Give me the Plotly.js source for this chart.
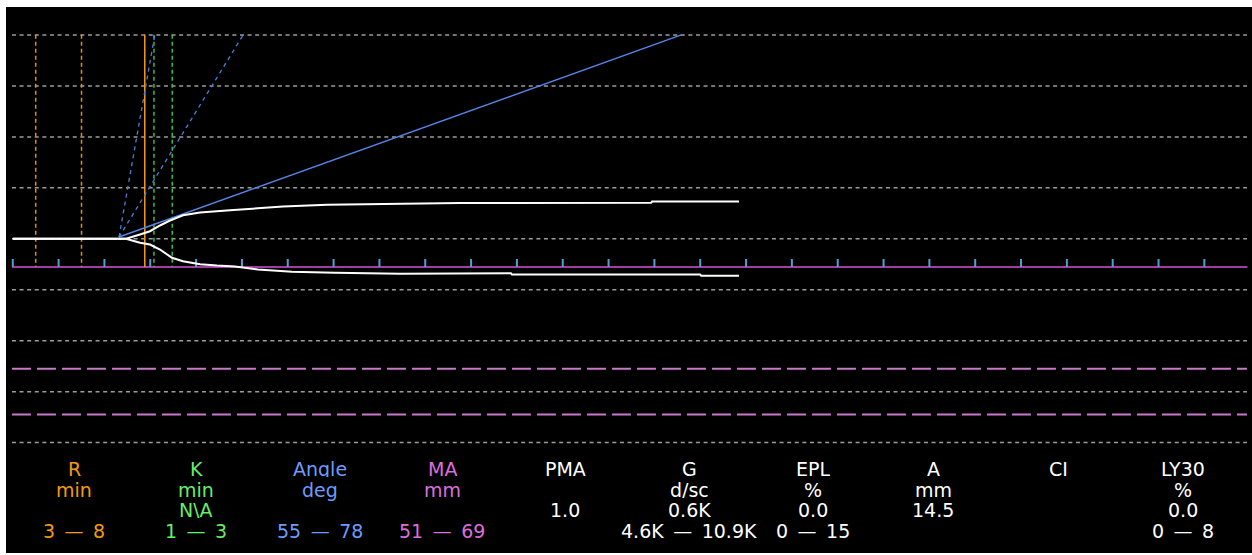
<!DOCTYPE html>
<html>
<head>
<meta charset="utf-8">
<script src="https://cdn.plot.ly/plotly-3.0.1.min.js"></script>
<style>
  html, body { margin: 0; padding: 0; background: #ffffff; }
  #chart { width: 1252px; height: 555px; }
</style>
</head>
<body>
<div id="chart"></div>
<script>
// ---------------- data (time in minutes, amplitude in mm from baseline) ----------------
const timeUpper = [0.5, 12.85, 14.38, 15.47, 16.56, 17.65, 19.07, 20.93, 24.2, 26.71, 29.98, 34.78, 40.56, 44.92, 49.28, 70.13, 70.24, 79.73];
const ampUpper  = [0, 0, 0.84, 1.49, 2.61, 3.59, 4.63, 5.16, 5.61, 5.94, 6.33, 6.67, 6.86, 6.92, 7.02, 7.06, 7.31, 7.31];
const timeLower = [0.5, 12.85, 14.38, 15.47, 16.56, 17.87, 19.07, 20.93, 22.78, 24.74, 27.25, 30.96, 35.65, 42.75, 54.85, 54.95, 75.48, 75.6, 79.73];
const ampLower  = [0, 0, -0.78, -1.12, -2.1, -3.73, -4.39, -4.98, -5.24, -5.43, -6.02, -6.47, -6.67, -6.86, -6.75, -7.0, -7.0, -7.25, -7.25];

const xTicks = [0.5, 5.5, 10.5, 15.5, 20.5, 25.5, 30.5, 35.5, 40.5, 45.5, 50.5, 55.5, 60.5, 65.5, 70.5, 75.5, 80.5, 85.5, 90.5, 95.5, 100.5, 105.5, 110.5, 115.5, 120.5, 125.5, 130.5];
const gridLevels = [40, 30, 20, 10, 0, -10, -20, -30, -40];

const rRange = [3, 8];          // normal R range (min)
const rValue = 14.9;            // R marker (min)
const kRange = [1, 3];          // normal K range (min, after R)
const maRange = [51, 69];       // normal MA range (mm)

const angleOrigin = [12.09, 0.35];       // start of angle lines [min, mm]
const angleRangeEndX = [16.0, 25.65];    // dashed 78° and 55° lines, end time at top
const angleActualEndX = 73.51;           // solid angle line end time
const angleTopY = 40.06;

// table of parameters
const params = ['R', 'K', 'Angle', 'MA', 'PMA', 'G', 'EPL', 'A', 'CI', 'LY30'];
const units  = ['min', 'min', 'deg', 'mm', '', 'd/sc', '%', 'mm', '', '%'];
const values = ['', 'N\\A', '', '', '1.0', '0.6K', '0.0', '14.5', '', '0.0'];
const ranges = ['3 — 8', '1 — 3', '55 — 78', '51 — 69', '', '4.6K — 10.9K', '0 — 15', '', '', '0 — 8'];

// ---------------- styling / layout ----------------
const colR = '#F39A12', colK = '#66EE66', colAng = '#6E9BFF', colMA = '#DD6EDD', colW = '#FFFFFF';
const textColors = [colR, colK, colAng, colMA, colW, colW, colW, colW, colW, colW];
const colCenters = [74, 196, 320, 442, 565, 689, 813, 933, 1058, 1183];
const rowCenters = [467.5, 488.5, 508, 529.5];

const W = 1252, H = 555, ML = 6, MR = 0, MT = 7, MB = 2;
const xLo = (ML - 8.2) / 9.166, xHi = (W - MR - 8.2) / 9.166;
const yHi = (238.8 - MT) / 5.095, yLo = -((H - MB) - 238.8) / 5.095;
const gridX0 = 0.41, gridX1 = 135.15;
const axisY = -5.53, tickTopY = -3.96, vTopY = 40.06;

const traces = [];

// horizontal grid lines
gridLevels.forEach(g => traces.push({
  x: [gridX0, gridX1], y: [g, g], mode: 'lines',
  line: { color: '#9C9C9C', width: 1.5, dash: '4px,3.6px' }, hoverinfo: 'skip'
}));

// MA normal range lines (displayed as half amplitude below baseline)
maRange.forEach(m => traces.push({
  x: [gridX0, gridX1], y: [-m / 2, -m / 2], mode: 'lines',
  line: { color: '#C879C8', width: 2, dash: '19px,6px' }, hoverinfo: 'skip'
}));

// time axis line
traces.push({ x: [gridX0, gridX1 + 0.05], y: [axisY, axisY], mode: 'lines',
  line: { color: '#A23CA2', width: 2 }, hoverinfo: 'skip' });

// tick marks
const tx = [], ty = [];
xTicks.forEach(t => { tx.push(t, t, null); ty.push(tickTopY, axisY, null); });
traces.push({ x: tx, y: ty, mode: 'lines', line: { color: '#5B9BD0', width: 2 }, hoverinfo: 'skip' });

// R normal range
rRange.forEach(r => traces.push({
  x: [r, r], y: [vTopY, axisY], mode: 'lines',
  line: { color: '#E0900A', width: 1.5, dash: '4px,3px' }, hoverinfo: 'skip'
}));
// K normal range (relative to R)
kRange.forEach(k => traces.push({
  x: [rValue + k, rValue + k], y: [vTopY, axisY], mode: 'lines',
  line: { color: '#3DBB44', width: 1.5, dash: '4px,3px' }, hoverinfo: 'skip'
}));
// R marker
traces.push({ x: [rValue, rValue], y: [vTopY, axisY], mode: 'lines',
  line: { color: '#F59B10', width: 1.5 }, hoverinfo: 'skip' });

// angle normal range lines
angleRangeEndX.forEach(ex => traces.push({
  x: [angleOrigin[0], ex], y: [angleOrigin[1], angleTopY], mode: 'lines',
  line: { color: '#4A7FDA', width: 1.3, dash: '4px,4px' }, hoverinfo: 'skip'
}));
// actual angle line
traces.push({ x: [angleOrigin[0], angleActualEndX], y: [angleOrigin[1], angleTopY], mode: 'lines',
  line: { color: '#5587EA', width: 1.4 }, hoverinfo: 'skip' });

// TEG trace
traces.push({ x: timeUpper, y: ampUpper, mode: 'lines', line: { color: '#FFFFFF', width: 2 }, hoverinfo: 'skip' });
traces.push({ x: timeLower, y: ampLower, mode: 'lines', line: { color: '#FFFFFF', width: 2 }, hoverinfo: 'skip' });

// text table
const annotations = [];
const rowsData = [params, units, values, ranges];
rowsData.forEach((row, ri) => {
  row.forEach((txt, ci) => {
    if (!txt) return;
    const belowEmpty = ri < rowsData.length - 1 && !rowsData[ri + 1][ci];
    const boxH = belowEmpty ? 25 : 19;
    const cy = rowCenters[ri] + (boxH - 19) / 2;
    annotations.push({
      xref: 'paper', yref: 'paper',
      x: (colCenters[ci] - ML) / (W - ML - MR),
      y: ((H - MB) - cy) / (H - MT - MB),
      xanchor: 'center', yanchor: 'middle', showarrow: false,
      height: boxH, valign: 'top', borderpad: 0,
      text: txt.replace(' — ', '\u2002—\u2002'),
      font: { family: 'DejaVu Sans, Verdana, sans-serif', size: 19, color: textColors[ci] }
    });
  });
});

const layout = {
  width: W, height: H,
  margin: { l: ML, r: MR, t: MT, b: MB, pad: 0 },
  paper_bgcolor: '#FFFFFF', plot_bgcolor: '#000000',
  showlegend: false,
  xaxis: { range: [xLo, xHi], showgrid: false, zeroline: false, showticklabels: false, showline: false, ticks: '', fixedrange: true },
  yaxis: { range: [yLo, yHi], showgrid: false, zeroline: false, showticklabels: false, showline: false, ticks: '', fixedrange: true },
  annotations: annotations
};

Plotly.newPlot('chart', traces, layout, { displayModeBar: false, staticPlot: true });
</script>
</body>
</html>
